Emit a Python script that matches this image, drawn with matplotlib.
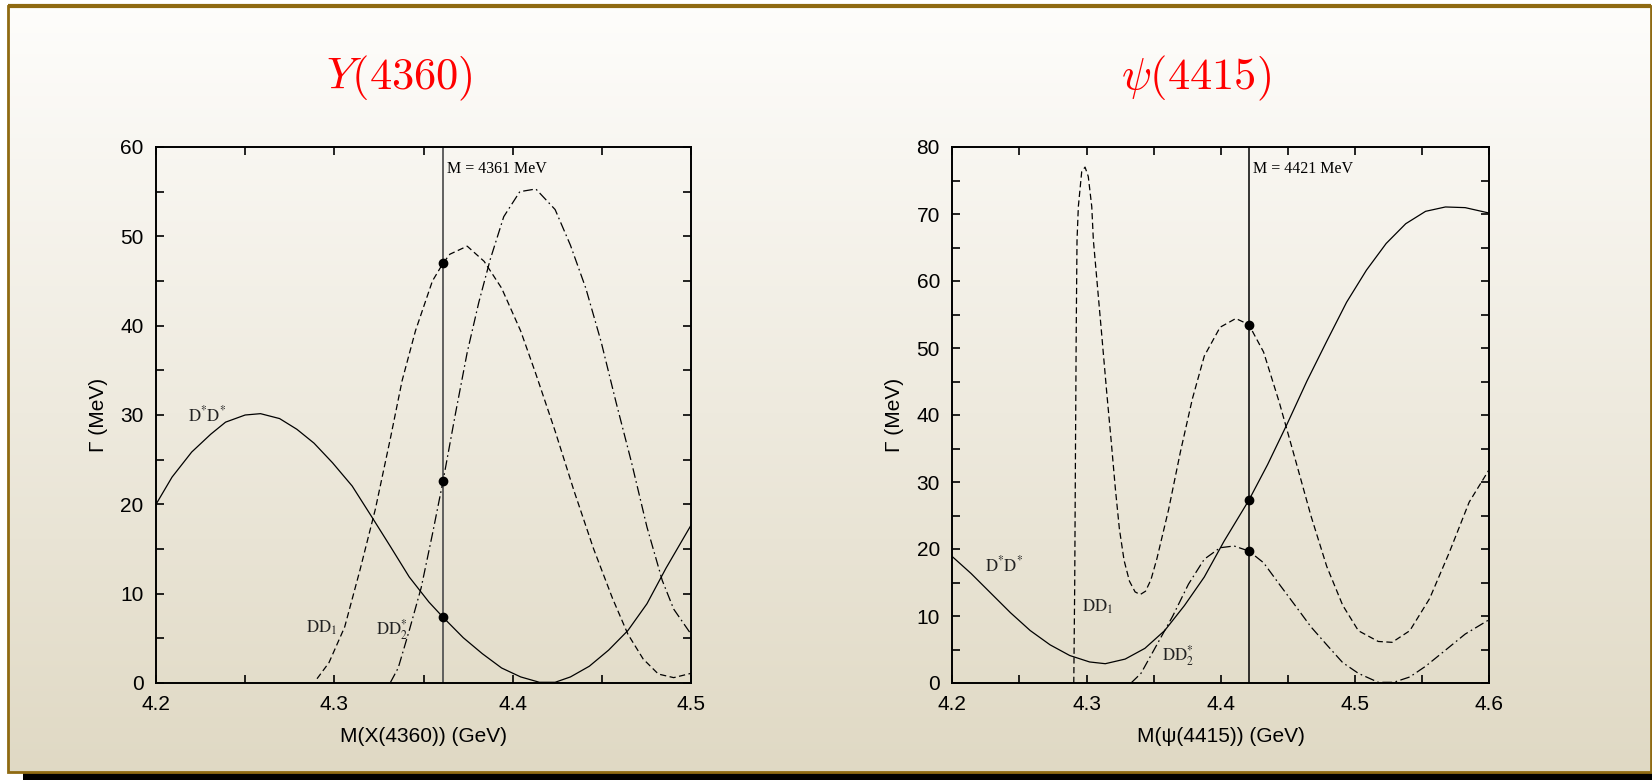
import numpy as np
import matplotlib.pyplot as plt
from matplotlib.patches import Rectangle
from matplotlib.ticker import MultipleLocator, FormatStrFormatter

plt.rcParams['font.family'] = ['Liberation Sans', 'DejaVu Sans']
plt.rcParams['lines.scale_dashes'] = False

# ---- Y(4360) panel ----
y_mass = 4.361
y_dstar_x = [4.200, 4.209, 4.220, 4.2307, 4.239, 4.250, 4.2586, 4.2693, 4.279, 4.2886,
             4.299, 4.310, 4.3208, 4.3315, 4.342, 4.353, 4.361, 4.3723, 4.383, 4.3938,
             4.4045, 4.415, 4.4238, 4.4324, 4.443, 4.4538, 4.4646, 4.4753, 4.486, 4.500]
y_dstar_g = [20.0, 23.05, 25.85, 27.85, 29.2, 30.0, 30.15, 29.6, 28.4, 26.85,
             24.65, 22.05, 18.66, 15.26, 11.87, 9.07, 7.35, 5.07, 3.28, 1.68,
             0.68, 0.08, 0.08, 0.68, 1.88, 3.68, 5.87, 8.87, 12.86, 17.66]
y_dd1_x = [4.2903, 4.297, 4.3058, 4.3144, 4.323, 4.3315, 4.338, 4.3455, 4.355, 4.361,
           4.3648, 4.3745, 4.384, 4.3938, 4.4045, 4.413, 4.4238, 4.4345, 4.4453, 4.456,
           4.4646, 4.4732, 4.4817, 4.4903, 4.500]
y_dd1_g = [0.48, 2.28, 6.27, 12.66, 19.46, 27.45, 33.84, 39.43, 45.0, 47.0,
           48.0, 48.9, 47.2, 44.2, 39.4, 34.6, 28.2, 21.45, 15.06, 9.47,
           5.47, 2.68, 1.0, 0.6, 1.08]
y_dd2_x = [4.3315, 4.3358, 4.342, 4.3487, 4.355, 4.361, 4.368, 4.3745, 4.381, 4.3874,
           4.395, 4.404, 4.413, 4.4238, 4.4324, 4.441, 4.4496, 4.458, 4.4667, 4.4753,
           4.4839, 4.4903, 4.500]
y_dd2_g = [0.08, 1.68, 5.87, 10.67, 16.66, 22.65, 30.24, 37.0, 42.6, 47.4,
           52.2, 55.0, 55.3, 53.0, 49.0, 44.2, 38.2, 31.4, 24.65, 17.46,
           11.47, 8.27, 5.47]
y_dots = [7.35, 22.65, 47.0]

# ---- psi(4415) panel ----
p_mass = 4.421
p_dstar_x = [4.200, 4.2139, 4.2286, 4.2433, 4.258, 4.2728, 4.2875, 4.3023, 4.314, 4.3288,
             4.3435, 4.3583, 4.373, 4.3878, 4.4025, 4.421, 4.435, 4.4497, 4.4644, 4.479,
             4.4939, 4.5087, 4.5234, 4.538, 4.5528, 4.5676, 4.5823, 4.600]
p_dstar_g = [18.85, 16.35, 13.42, 10.49, 7.83, 5.70, 4.10, 3.14, 2.88, 3.57,
             5.17, 7.83, 11.56, 15.82, 21.15, 27.27, 32.6, 38.72, 45.1, 50.97,
             56.83, 61.62, 65.6, 68.55, 70.4, 71.05, 70.95, 70.15]
p_dd1_x = [4.2905, 4.2912, 4.2918, 4.2923, 4.2929, 4.2939, 4.2964, 4.2989, 4.3013, 4.3039,
           4.3051, 4.3111, 4.3150, 4.3183, 4.3215, 4.3245, 4.3280, 4.3320, 4.3362, 4.3400,
           4.3440, 4.3480, 4.3524, 4.3612, 4.3700, 4.3789, 4.3878, 4.3996, 4.4113, 4.421,
           4.4320, 4.4437, 4.4556, 4.4674, 4.4791, 4.4910, 4.5027, 4.5175, 4.5278, 4.5410,
           4.5558, 4.5705, 4.5853, 4.600]
p_dd1_g = [0.0, 15.0, 36.0, 52.0, 66.0, 71.1, 76.3, 77.0, 75.6, 71.1,
           66.1, 52.5, 43.5, 36.3, 29.0, 23.0, 18.3, 15.2, 13.6, 13.2,
           13.7, 15.4, 18.5, 25.9, 34.5, 42.4, 48.8, 53.1, 54.4, 53.5,
           49.4, 41.9, 33.4, 24.9, 17.4, 11.6, 7.8, 6.2, 6.07, 7.8,
           12.6, 19.5, 27.0, 31.8]
p_dd2_x = [4.3332, 4.3406, 4.3524, 4.3642, 4.376, 4.3878, 4.3996, 4.410, 4.421, 4.432,
           4.4437, 4.4556, 4.4674, 4.4791, 4.491, 4.5027, 4.5175, 4.529, 4.541, 4.5528,
           4.5676, 4.5823, 4.600]
p_dd2_g = [0.0, 1.44, 5.7, 9.96, 14.75, 18.48, 20.19, 20.45, 19.7, 17.95,
           14.75, 11.56, 8.36, 5.70, 3.04, 1.44, 0.1, 0.1, 0.9, 2.5,
           4.9, 7.3, 9.43]
p_dots = [53.5, 27.27, 19.7]

W, H = 1652, 780
fig = plt.figure(figsize=(W / 100, H / 100), dpi=100)
fig.patch.set_facecolor('white')

# slide background: gradient box, brown frame, black shadow
bg = fig.add_axes([0, 0, 1, 1], zorder=-10)
bg.set_xlim(0, W)
bg.set_ylim(0, H)
bg.axis('off')
top_c = np.array([0.996, 0.993, 0.986])
bot_c = np.array([0.878, 0.851, 0.769])
t = np.linspace(0, 1, 256)[:, None, None]
bg.imshow(top_c + (bot_c - top_c) * t, extent=(8, W - 1, 8, H - 6),
          aspect='auto', origin='upper')
bg.add_patch(Rectangle((23, 0), W - 23, 7, color='black', lw=0))
bg.add_patch(Rectangle((8, 8), W - 9, H - 14, fill=False, ec='#8f6a12', lw=2))
bg.plot([8, W - 1], [H - 6, H - 6], color='#8f6a12', lw=3, solid_capstyle='butt')

dash = (0, (4.5, 2.5))
dashdot = (0, (7, 2.5, 1.2, 2.5))


def setup(ax, xmax, ymax, xlabel):
    ax.set_facecolor('none')
    ax.set_xlim(4.2, xmax)
    ax.set_ylim(0, ymax)
    ax.xaxis.set_major_locator(MultipleLocator(0.1))
    ax.xaxis.set_minor_locator(MultipleLocator(0.05))
    ax.yaxis.set_major_locator(MultipleLocator(10))
    ax.yaxis.set_minor_locator(MultipleLocator(5))
    ax.xaxis.set_major_formatter(FormatStrFormatter('%.1f'))
    ax.tick_params(which='both', direction='in', top=True, right=True,
                   length=5.5, width=1.2, labelsize=15, pad=9)
    for s in ax.spines.values():
        s.set_linewidth(1.4)
    ax.set_xlabel(xlabel, fontsize=15, labelpad=9)
    ax.set_ylabel('Γ (MeV)', fontsize=15, labelpad=9)


ser = dict(math_fontfamily='stix', family='Liberation Serif', color='#222222')

# left panel
ax1 = fig.add_axes([156 / W, 1 - 683 / H, 535 / W, 536 / H])
setup(ax1, 4.5, 60, 'M(X(4360)) (GeV)')
ax1.axvline(y_mass, color='#555555', lw=1.3)
ax1.plot(y_dstar_x, y_dstar_g, color='black', lw=0.9)
ax1.plot(y_dd1_x, y_dd1_g, color='black', lw=0.9, ls=dash)
ax1.plot(y_dd2_x, y_dd2_g, color='black', lw=0.9, ls=dashdot)
ax1.plot([y_mass] * 3, y_dots, 'o', color='black', ms=6)
ax1.text(y_mass + 0.002, 57.1, 'M = 4361 MeV', fontsize=11.5, family='Liberation Serif',
         va='baseline')
ax1.text(4.2178, 29.3, r'$\mathrm{D^{*}D^{*}}$', fontsize=12, va='baseline', **ser)
ax1.text(4.2841, 5.6, r'$\mathrm{DD_{1}}$', fontsize=12, va='baseline', **ser)
ax1.text(4.3232, 5.4, r'$\mathrm{DD_{2}^{*}}$', fontsize=12, va='baseline', **ser)

# right panel
ax2 = fig.add_axes([952.4 / W, 1 - 683 / H, 536.5 / W, 536 / H])
setup(ax2, 4.6, 80, 'M(ψ(4415)) (GeV)')
ax2.axvline(p_mass, color='black', lw=1.1)
ax2.plot(p_dstar_x, p_dstar_g, color='black', lw=0.9)
ax2.plot(p_dd1_x, p_dd1_g, color='black', lw=0.9, ls=dash)
ax2.plot(p_dd2_x, p_dd2_g, color='black', lw=0.9, ls=dashdot)
ax2.plot([p_mass] * 3, p_dots, 'o', color='black', ms=6)
ax2.text(p_mass + 0.003, 76.1, 'M = 4421 MeV', fontsize=11.5, family='Liberation Serif',
         va='baseline')
ax2.text(4.2242, 16.7, r'$\mathrm{D^{*}D^{*}}$', fontsize=12, va='baseline', **ser)
ax2.text(4.2964, 10.6, r'$\mathrm{DD_{1}}$', fontsize=12, va='baseline', **ser)
ax2.text(4.3559, 3.3, r'$\mathrm{DD_{2}^{*}}$', fontsize=12, va='baseline', **ser)

# red titles
fig.text(399 / W, 1 - 89 / H, r'$Y(4360)$', color='red', fontsize=32,
         math_fontfamily='cm', ha='center', va='baseline')
fig.text(1196 / W, 1 - 89 / H, r'$\psi(4415)$', color='red', fontsize=32,
         math_fontfamily='cm', ha='center', va='baseline')

fig.savefig('out.png', dpi=100)
